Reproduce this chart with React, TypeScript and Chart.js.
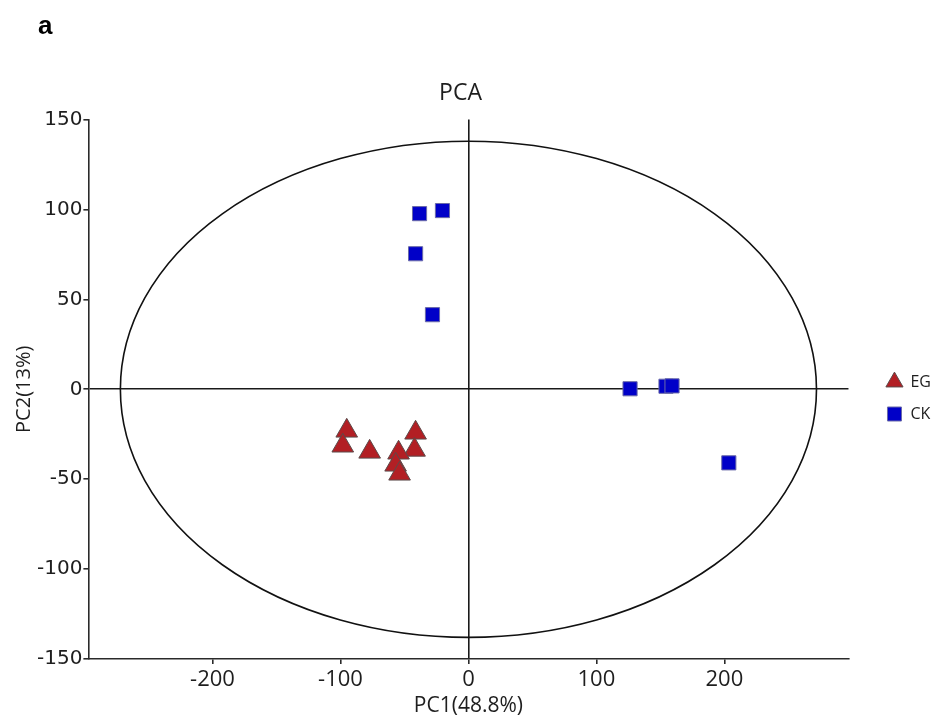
import React, { useEffect, useRef } from 'react';
import { Chart, registerables } from 'chart.js';

Chart.register(...registerables);

const TITLE = 'PCA';
const PANEL_LABEL = 'a';
const X_LABEL = 'PC1(48.8%)';
const Y_LABEL = 'PC2(13%)';
const GROUP_NAMES = ['EG', 'CK'];

const EG_X = [-95.1, -98.2, -77.2, -41.3, -42.1, -54.6, -56.9, -53.8];
const EG_Y = [-23.1, -31.4, -34.8, -24.2, -33.7, -35.3, -42.0, -47.0];
const CK_X = [-38.2, -20.3, -41.3, -28.1, 126.3, 154.4, 159.1, 203.5];
const CK_Y = [97.7, 99.4, 75.4, 41.5, 0.3, 1.7, 1.9, -40.9];

const X_TICKS = [-200, -100, 0, 100, 200];
const Y_TICKS = [-150, -100, -50, 0, 50, 100, 150];
const X_RANGE = [-297, 297];
const Y_RANGE = [-150, 150];

const ELLIPSE_CENTER = [0, 0];
const ELLIPSE_RADII = [272, 138];

const LEGEND_GAP = 22;
const LEGEND_DY = 39;

const AXIS_COLOR = '#2a2a2a';
const TEXT_COLOR = '#1e1e1e';

const ellipsePlugin = {
  id: 'confEllipse',
  beforeDatasetsDraw(chart: any) {
    const { ctx, scales } = chart;
    const x = scales.x;
    const y = scales.y;
    const cx = x.getPixelForValue(ELLIPSE_CENTER[0]);
    const cy = y.getPixelForValue(ELLIPSE_CENTER[1]);
    const rx = Math.abs(x.getPixelForValue(ELLIPSE_CENTER[0] + ELLIPSE_RADII[0]) - cx);
    const ry = Math.abs(y.getPixelForValue(ELLIPSE_CENTER[1] + ELLIPSE_RADII[1]) - cy);
    ctx.save();
    ctx.beginPath();
    ctx.ellipse(cx, cy, rx, ry, 0, 0, Math.PI * 2);
    ctx.lineWidth = 1.6;
    ctx.strokeStyle = '#111';
    ctx.stroke();
    ctx.restore();
  },
};

const legendShiftPlugin = {
  id: 'legendShift',
  afterLayout(chart: any) {
    const l = chart.legend;
    if (!l) return;
    const dx = chart.chartArea.right + LEGEND_GAP - l.left;
    l.left += dx;
    l.right += dx;
    l.top += LEGEND_DY;
    l.bottom += LEGEND_DY;
  },
};

const zeroGrid = (c: any) => (c.tick && c.tick.value === 0 ? '#1a1a1a' : 'rgba(0,0,0,0)');

export default function App() {
  const canvasRef = useRef<HTMLCanvasElement | null>(null);

  useEffect(() => {
    document.body.style.margin = '0';
    const canvas = canvasRef.current;
    if (!canvas) return;
    const chart = new Chart(canvas, {
      type: 'scatter',
      data: {
        datasets: [
          {
            label: GROUP_NAMES[0],
            data: EG_X.map((v, i) => ({ x: v, y: EG_Y[i] })),
            pointStyle: 'triangle',
            pointRadius: 12.5,
            pointHoverRadius: 12.5,
            backgroundColor: '#b21f24',
            borderColor: '#5c4a4a',
            borderWidth: 1,
          },
          {
            label: GROUP_NAMES[1],
            data: CK_X.map((v, i) => ({ x: v, y: CK_Y[i] })),
            pointStyle: 'rect',
            pointRadius: 10,
            pointHoverRadius: 10,
            backgroundColor: '#0000c8',
            borderColor: '#6a6aa8',
            borderWidth: 1,
          },
        ],
      },
      options: {
        animation: false,
        responsive: true,
        maintainAspectRatio: false,
        layout: { padding: { left: 2, right: 17, top: 0, bottom: 0 } },
        plugins: {
          tooltip: { enabled: false },
          title: {
            display: true,
            text: TITLE,
            color: TEXT_COLOR,
            font: { family: 'Open Sans', size: 23, weight: 'normal' },
            padding: { top: 80, bottom: 12 },
          },
          legend: {
            display: true,
            position: 'right',
            labels: {
              usePointStyle: true,
              boxWidth: 16,
              boxHeight: 14,
              padding: 16,
              color: TEXT_COLOR,
              font: { family: 'Open Sans', size: 16 },
            },
          },
        },
        scales: {
          x: {
            type: 'linear',
            min: X_RANGE[0],
            max: X_RANGE[1],
            afterBuildTicks: (scale: any) => {
              scale.ticks = X_TICKS.map((v) => ({ value: v }));
            },
            border: { display: true, color: AXIS_COLOR, width: 1.6 },
            grid: {
              color: zeroGrid,
              lineWidth: 1.6,
              tickColor: AXIS_COLOR,
              tickLength: 5,
              drawTicks: true,
            },
            ticks: {
              color: TEXT_COLOR,
              padding: 5,
              font: { family: 'Open Sans', size: 22, lineHeight: 1.0 },
              maxRotation: 0,
              autoSkip: false,
            },
            title: {
              display: true,
              text: X_LABEL,
              color: TEXT_COLOR,
              font: { family: 'Open Sans', size: 21, lineHeight: 1.0 },
              padding: { top: 0, bottom: 1 },
            },
          },
          y: {
            type: 'linear',
            min: Y_RANGE[0],
            max: Y_RANGE[1],
            afterBuildTicks: (scale: any) => {
              scale.ticks = Y_TICKS.map((v) => ({ value: v }));
            },
            border: { display: true, color: AXIS_COLOR, width: 1.6 },
            grid: {
              color: zeroGrid,
              lineWidth: 1.6,
              tickColor: AXIS_COLOR,
              tickLength: 5,
              drawTicks: true,
            },
            ticks: {
              color: TEXT_COLOR,
              padding: 1,
              font: { family: 'DejaVu Sans', size: 20 },
              autoSkip: false,
            },
            title: {
              display: true,
              text: Y_LABEL,
              color: TEXT_COLOR,
              font: { family: 'Open Sans', size: 20 },
              padding: { top: 10, bottom: 0 },
            },
          },
        },
      },
      plugins: [ellipsePlugin, legendShiftPlugin],
    });
    return () => chart.destroy();
  }, []);

  return (
    <div style={{ position: 'relative', width: 936, height: 718, background: '#fff' }}>
      <canvas ref={canvasRef} />
      <div
        style={{
          position: 'absolute',
          left: 38,
          top: 10,
          fontFamily: '"Liberation Sans", Roboto, "DejaVu Sans", sans-serif',
          fontWeight: 700,
          fontSize: 26,
          lineHeight: '30px',
          color: '#000',
        }}
      >
        {PANEL_LABEL}
      </div>
    </div>
  );
}
